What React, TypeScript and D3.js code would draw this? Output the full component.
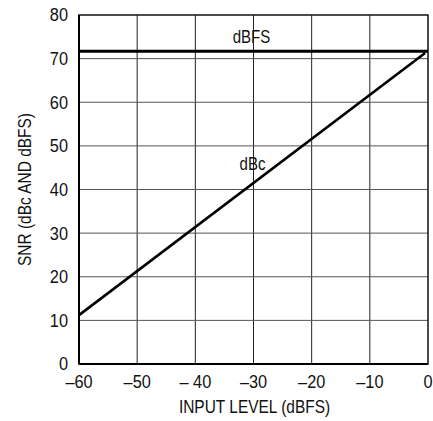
import React from 'react'
import * as d3 from 'd3'

const xTicks = [-60, -50, -40, -30, -20, -10, 0]
const xTickLabels = ['–60', '–50', '– 40', '–30', '–20', '–10', '0']
const yTicks = [0, 10, 20, 30, 40, 50, 60, 70, 80]
const dbcInput = [-60, -0.5]
const dbcSnr = [11.2, 71.3]
const dbfsInput = [-60, 0]
const dbfsSnr = [71.7, 71.7]

const W = 433
const H = 421
const margin = { top: 15, right: 5, bottom: 57, left: 79 }
const font = '"Liberation Sans", Arial, sans-serif'
const squeeze = 0.86

// condensed-looking text: plain sans squeezed horizontally
function T({ x, y, size, anchor = 'middle', baseline, rotate = 0, children }: {
  x: number, y: number, size: number, anchor?: string, baseline?: string, rotate?: number, children: React.ReactNode
}) {
  return (
    <text transform={`translate(${x},${y}) rotate(${rotate}) scale(${squeeze},1)`}
      textAnchor={anchor} dominantBaseline={baseline} fontSize={size}>{children}</text>
  )
}

export default function App() {
  const x = d3.scaleLinear().domain([-60, 0]).range([margin.left, W - margin.right])
  const y = d3.scaleLinear().domain([0, 80]).range([H - margin.bottom, margin.top])
  const line = d3.line<[number, number]>().x(d => x(d[0])).y(d => y(d[1]))
  const dbc = dbcInput.map((v, i) => [v, dbcSnr[i]] as [number, number])
  const dbfs = dbfsInput.map((v, i) => [v, dbfsSnr[i]] as [number, number])

  return (
    <svg width={W} height={H} style={{ position: 'absolute', left: 0, top: 0, background: '#fff' }}
      fontFamily={font} fill="#111">
      {/* grid */}
      {xTicks.slice(1, -1).map(t => (
        <line key={'gx' + t} x1={x(t)} x2={x(t)} y1={y(0)} y2={y(80)} stroke="#222" strokeWidth={1} />
      ))}
      {yTicks.slice(1, -1).map(t => (
        <line key={'gy' + t} x1={x(-60)} x2={x(0)} y1={y(t)} y2={y(t)} stroke="#555" strokeWidth={1} />
      ))}
      {/* frame */}
      <rect x={x(-60)} y={y(80)} width={x(0) - x(-60)} height={y(0) - y(80)} fill="none" stroke="#111" strokeWidth={1.5} />
      <line x1={x(-60)} x2={x(-60)} y1={y(0)} y2={y(80)} stroke="#000" strokeWidth={2} />
      <line x1={x(-60)} x2={x(0)} y1={y(0)} y2={y(0)} stroke="#000" strokeWidth={2} />

      {/* series */}
      <path d={line(dbfs) || ''} fill="none" stroke="#000" strokeWidth={3} />
      <path d={line(dbc) || ''} fill="none" stroke="#000" strokeWidth={2.6} />
      <T x={x(-30) - 2} y={43} size={17.5}>dBFS</T>
      <T x={x(-30) - 1} y={170} size={17.5}>dBc</T>

      {/* y ticks */}
      {yTicks.map(t => (
        <T key={'ty' + t} x={x(-60) - 11} y={y(t)} size={19} anchor="end" baseline="central">{t}</T>
      ))}
      {/* x ticks */}
      {xTicks.map((t, i) => (
        <T key={'tx' + t} x={x(t)} y={y(0) + 18} size={19} baseline="central">{xTickLabels[i]}</T>
      ))}
      <T x={(x(-60) + x(0)) / 2 + 1} y={y(0) + 49} size={18}>INPUT LEVEL (dBFS)</T>
      <T x={31} y={(y(0) + y(80)) / 2} size={18} rotate={-90}>SNR (dBc AND dBFS)</T>
    </svg>
  )
}
